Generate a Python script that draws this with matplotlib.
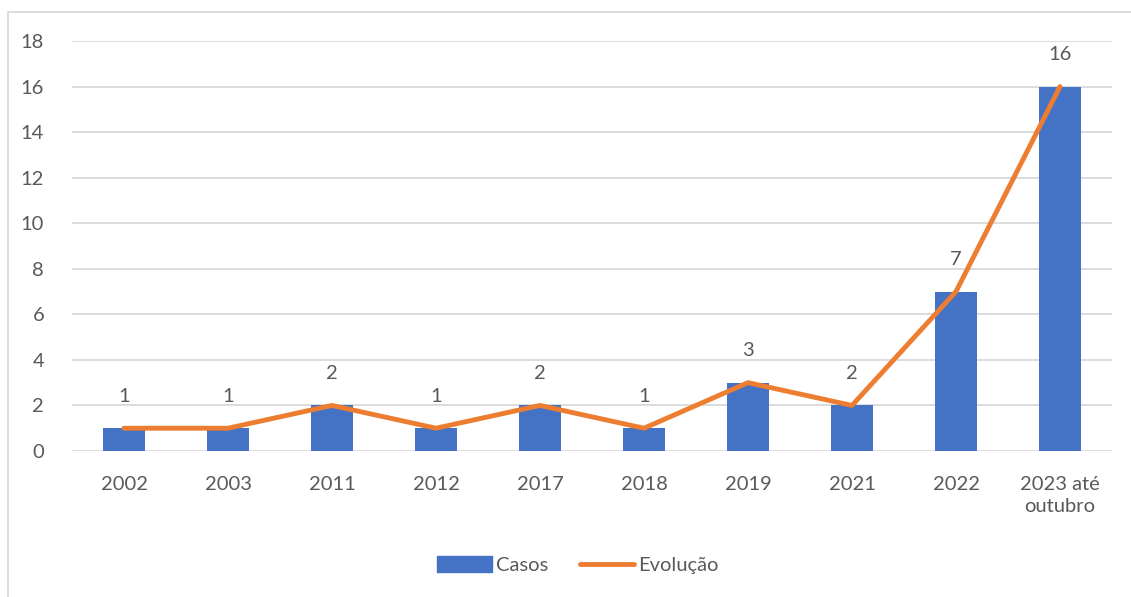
import matplotlib
matplotlib.use('Agg')
import matplotlib.pyplot as plt
from matplotlib.patches import Rectangle
from matplotlib.lines import Line2D

# dados
anos = ['2002', '2003', '2011', '2012', '2017', '2018', '2019', '2021', '2022', '2023 até\noutubro']
casos = [1, 1, 2, 1, 2, 1, 3, 2, 7, 16]

plt.rcParams['font.family'] = ['Lato', 'DejaVu Sans']
cor_texto = '#595959'
cor_grade = '#D9D9D9'
fs = 14.5

W, H = 1131, 597
fig = plt.figure(figsize=(W / 100, H / 100), dpi=100)
ax = fig.add_axes([72 / W, 1 - 451 / H, (1112 - 72) / W, (451 - 41) / H])

x = list(range(len(anos)))
ax.bar(x, casos, width=0.4, color='#4472C4', zorder=2)
ax.plot(x, casos, color='#ED7D31', linewidth=3.5, solid_capstyle='round', zorder=3)

# rótulos de dados
for xi, v in zip(x, casos):
    ax.annotate(f'{v}', (xi, v), textcoords='offset points', xytext=(0, 23),
                ha='center', va='center', fontsize=fs, color=cor_texto)

ax.set_xlim(-0.5, len(anos) - 0.5)
ax.set_ylim(0, 18)
ax.set_yticks(range(0, 19, 2))
ax.set_xticks(x)
ax.set_xticklabels(anos, linespacing=1.35)
ax.tick_params(axis='both', length=0, labelsize=fs, labelcolor=cor_texto)
ax.tick_params(axis='y', pad=20)
ax.tick_params(axis='x', pad=18)
ax.grid(axis='y', color=cor_grade, linewidth=1.3, zorder=0)
for s in ax.spines.values():
    s.set_visible(False)
ax.set_axisbelow(True)

# borda do gráfico
fig.patches.append(Rectangle((8 / W, -0.01), 1.1, 1 - 12 / H + 0.01,
                             transform=fig.transFigure, fill=False,
                             edgecolor=cor_grade, linewidth=1.3))

handles = [Rectangle((0, 0), 1, 1, color='#4472C4'),
           Line2D([0], [0], color='#ED7D31', linewidth=3.5, solid_capstyle='round')]
fig.legend(handles, ['Casos', 'Evolução'], loc='center', bbox_to_anchor=(578 / W, 1 - 565 / H),
           ncol=2, frameon=False, fontsize=fs, labelcolor=cor_texto,
           handlelength=2.7, handletextpad=0.2, columnspacing=1.6, handleheight=0.8)

fig.savefig('out.png', dpi=100)
